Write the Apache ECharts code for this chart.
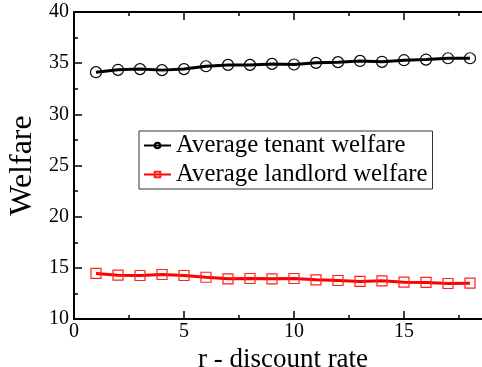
<!DOCTYPE html>
<html>
<head>
<meta charset="utf-8">
<script src="https://cdn.jsdelivr.net/npm/echarts@6/dist/echarts.min.js"></script>
<style>
  html, body { margin: 0; padding: 0; background: #fff; }
  #chart { width: 482px; height: 367px; }
</style>
</head>
<body>
<div id="chart"></div>
<script>
// Discount rate r (x) and average welfare for each group
const discountRate = [1, 2, 3, 4, 5, 6, 7, 8, 9, 10, 11, 12, 13, 14, 15, 16, 17, 18];
const tenantWelfare = [34.12, 34.35, 34.42, 34.32, 34.42, 34.70, 34.83, 34.83, 34.93, 34.87,
                       35.03, 35.10, 35.22, 35.13, 35.29, 35.35, 35.48, 35.48];
const landlordWelfare = [14.45, 14.28, 14.25, 14.35, 14.25, 14.08, 13.93, 13.96, 13.93, 13.96,
                         13.83, 13.76, 13.67, 13.73, 13.60, 13.57, 13.47, 13.50];
const seriesNames = ['Average tenant welfare', 'Average landlord welfare'];

const serif = '"Liberation Serif", "DejaVu Serif", serif';
const pairs = (xs, ys) => xs.map((x, i) => [x, ys[i]]);

const tickCommon = {
  inside: true, length: 8,
  lineStyle: { color: '#000', width: 1.5 }
};
const minorCommon = {
  show: true, splitNumber: 2, length: 4,
  lineStyle: { color: '#000', width: 1.5 }
};

const chart = echarts.init(document.getElementById('chart'), null, { renderer: 'canvas' });
chart.setOption({
  animation: false,
  backgroundColor: '#fff',
  grid: { left: 74, top: 12, right: -32, bottom: 48, containLabel: false, outerBoundsMode: 'none' },
  xAxis: [{
    type: 'value', min: 0, max: 20, interval: 5,
    name: 'r - discount rate', nameLocation: 'middle', nameGap: 24,
    nameTextStyle: { fontFamily: serif, fontSize: 27, color: '#000', verticalAlign: 'top', padding: [0, 22, 0, 0] },
    axisLine: { show: true, onZero: false, lineStyle: { color: '#000', width: 2 } },
    axisTick: tickCommon,
    minorTick: minorCommon,
    axisLabel: { fontFamily: serif, fontSize: 20, color: '#000', margin: 3 },
    splitLine: { show: false }
  }, {
    type: 'value', min: 0, max: 20, interval: 5, position: 'top',
    axisLine: { show: true, onZero: false, lineStyle: { color: '#000', width: 2 } },
    axisTick: tickCommon,
    minorTick: minorCommon,
    axisLabel: { show: false },
    splitLine: { show: false }
  }],
  yAxis: {
    type: 'value', min: 10, max: 40, interval: 5,
    name: 'Welfare', nameLocation: 'middle', nameGap: 34,
    nameTextStyle: { fontFamily: serif, fontSize: 32, color: '#000' },
    axisLine: { show: true, onZero: false, lineStyle: { color: '#000', width: 2 } },
    axisTick: tickCommon,
    minorTick: minorCommon,
    axisLabel: { fontFamily: serif, fontSize: 20, color: '#000', margin: 5 },
    splitLine: { show: false }
  },
  legend: {
    left: 139, top: 131,
    orient: 'vertical',
    itemWidth: 27, itemHeight: 7, itemGap: 2,
    padding: [1, 5, 1, 4],
    borderColor: '#333', borderWidth: 1, backgroundColor: '#fff',
    textStyle: { fontFamily: serif, fontSize: 24.8, lineHeight: 27, color: '#000' },
    data: seriesNames
  },
  series: [{
    name: seriesNames[0], type: 'line',
    data: pairs(discountRate, tenantWelfare),
    symbol: 'circle', symbolSize: 11,
    itemStyle: { color: 'rgba(255,255,255,0)', borderColor: '#000', borderWidth: 1.2 },
    lineStyle: { color: '#000', width: 3 }
  }, {
    name: seriesNames[1], type: 'line',
    data: pairs(discountRate, landlordWelfare),
    symbol: 'rect', symbolSize: 10,
    itemStyle: { color: 'rgba(255,255,255,0)', borderColor: '#ff2020', borderWidth: 1.2 },
    lineStyle: { color: '#ff0000', width: 3 }
  }]
});
</script>
</body>
</html>
